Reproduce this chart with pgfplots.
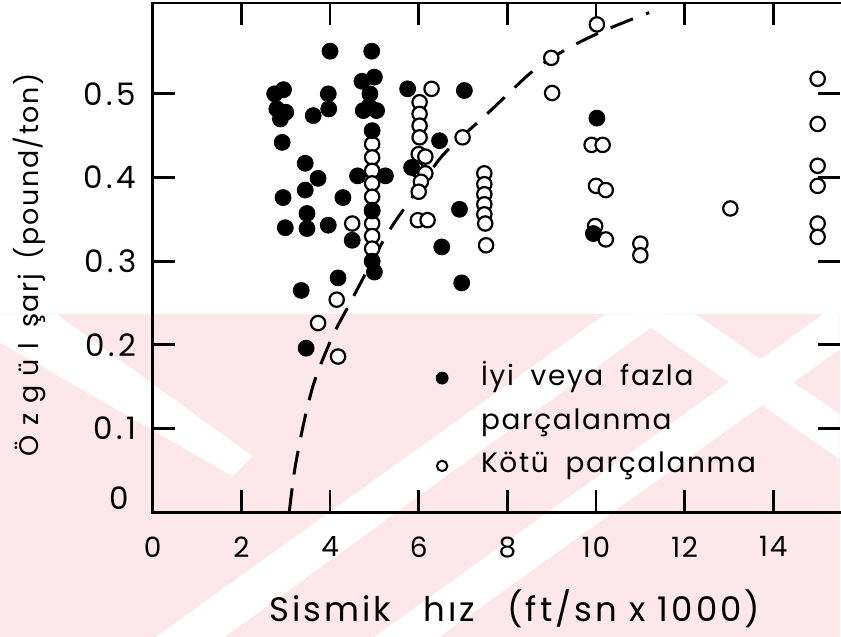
\documentclass[border=0pt]{standalone}
\usepackage{fontspec}
\setmainfont{Poppins}[LetterSpace=6]
\usepackage{pgfplots}
\pgfplotsset{compat=1.18}

\definecolor{wmpink}{RGB}{252,231,235}

\begin{document}
\begin{tikzpicture}[font=\fontsize{14pt}{17pt}\selectfont]
% frame of the whole figure
\path (-76.5pt,-62.5pt) rectangle (344pt,256.5pt);
% background stripes (drawn in a 841 x 638 grid, y downwards)
\begin{scope}[x=0.5pt,y=-0.5pt,shift={(-76.5pt,256.5pt)}]
  \fill[wmpink] (0,315) rectangle (841,638);
  \fill[white] (0,315) -- (57,315) -- (253,457) -- (233,477) -- (0,343) -- cycle;
  \fill[white] (156,638) -- (225,638) -- (670,315) -- (606,315) -- cycle;
  \fill[white] (375,638) -- (440,638) -- (841,350) -- (841,303) -- cycle;
  \fill[white] (633,315) -- (697,315) -- (841,415) -- (841,460) -- cycle;
\end{scope}
\begin{axis}[
  at={(0,0)}, anchor=south west,
  scale only axis, width=344pt, height=255pt,
  xmin=0, xmax=15.495, ymin=0, ymax=0.6086,
  clip=false,
  xtick={0,2,...,14},
  ytick={0.1,0.2,0.3,0.4,0.5},
  yticklabels={0.1,0.2,0.3,0.4,0.5},
  extra y ticks={0},
  extra y tick labels={0},
  extra y tick style={yticklabel style={yshift=7pt,xshift=-3.5pt}},
  tick align=inside, major tick length=11pt,
  axis line style={draw=none},
  every tick/.style={line width=1.4pt, black},
  /pgf/number format/assume math mode=true,
  yticklabel style={anchor=east, inner sep=0pt, xshift=-8pt,
    font=\fontsize{15.5pt}{18pt}\selectfont\addfontfeatures{LetterSpace=12}},
  xticklabel style={anchor=north, inner sep=0pt, yshift=-12pt},
  xlabel={Sismik\hspace{0.95em}hız\hspace{0.95em}(ft/sn x 1000)},
  ylabel={{\addfontfeatures{LetterSpace=35}Özgül}\hspace{0.55em}şarj\hspace{0.55em}(pound/ton)},
  xlabel style={at={(axis description cs:0.527,-0.1902)}, anchor=center,
    font=\fontsize{17pt}{20pt}\selectfont\addfontfeatures{LetterSpace=9}},
  ylabel style={at={(axis description cs:-0.1795,0.486)}, anchor=center,
    font=\fontsize{13.5pt}{16pt}\selectfont},
  legend style={at={(axis cs:6.0,0.181)}, anchor=north west, draw=none, fill=none,
    row sep=9pt, column sep=16.5pt,
    nodes={inner sep=0pt, text height=10pt, text depth=3pt}},
  legend cell align=left,
]
% separation curve
\addplot[forget plot, smooth, line width=1.5pt, dash pattern=on 12pt off 7pt] coordinates {
  (3.08,0) (3.2,0.05) (3.4,0.105) (3.6,0.148) (3.8,0.178) (4.1,0.215)
  (4.4,0.245) (4.65,0.27) (5.0,0.305) (5.4,0.342) (6.0,0.387) (6.5,0.424)
  (7.0,0.45) (7.5,0.474) (8.0,0.499) (8.5,0.524) (9.0,0.543) (9.6,0.561)
  (10.2,0.576) (10.8,0.589) (11.2,0.597)};
% poor fragmentation
\addplot[forget plot, only marks, mark=*, mark size=3.6pt,
  mark options={fill=white, draw=black, line width=1.1pt}] coordinates {
  (6.29,0.506) (6.02,0.490) (6.02,0.476) (6.02,0.462) (6.02,0.448)
  (6.00,0.428) (6.15,0.425) (5.95,0.410) (6.15,0.405) (6.05,0.395) (6.00,0.383)
  (5.98,0.349) (6.20,0.349)
  (4.95,0.440) (4.95,0.424) (4.95,0.408) (4.95,0.393) (4.95,0.377) (4.95,0.361)
  (4.95,0.345) (4.95,0.330) (4.95,0.315)
  (4.50,0.345) (4.15,0.254) (3.73,0.226) (4.18,0.186)
  (6.99,0.448) (8.99,0.543) (9.01,0.501) (10.02,0.583)
  (7.48,0.405) (7.48,0.392) (7.48,0.380) (7.48,0.368) (7.48,0.356) (7.50,0.345)
  (7.52,0.319)
  (9.90,0.439) (10.15,0.439) (10.00,0.390) (10.22,0.385) (9.98,0.342) (10.22,0.326)
  (11.00,0.321) (11.00,0.307) (13.03,0.363)
  (15.00,0.518) (15.00,0.464) (15.00,0.414) (15.00,0.390) (15.00,0.345) (15.00,0.329)};
% good or excessive fragmentation
\addplot[forget plot, only marks, mark=*, mark size=4pt, black] coordinates {
  (4.00,0.551) (4.94,0.551)
  (2.75,0.500) (2.95,0.505) (2.80,0.482) (3.00,0.478) (2.88,0.470)
  (3.62,0.474) (3.96,0.500) (3.97,0.482)
  (4.72,0.515) (5.00,0.520) (4.90,0.500) (4.88,0.485) (4.75,0.480) (5.05,0.480)
  (5.75,0.506) (7.03,0.504) (2.92,0.442) (6.47,0.444) (4.95,0.456)
  (3.44,0.417) (3.73,0.399) (4.62,0.402) (5.25,0.402) (5.84,0.412)
  (2.94,0.376) (3.44,0.385) (4.29,0.376) (4.95,0.360) (6.92,0.362)
  (2.99,0.340) (3.48,0.357) (3.48,0.339) (3.96,0.343) (4.50,0.325)
  (4.95,0.300) (5.00,0.287) (6.52,0.317) (4.18,0.280) (3.35,0.265)
  (6.97,0.274) (3.46,0.196) (10.02,0.471) (9.94,0.333)};
% frame: left, top and bottom sides
\draw[line width=1.4pt, line cap=rect]
  (rel axis cs:1,1) -- (rel axis cs:0,1) -- (rel axis cs:0,0) -- (rel axis cs:1,0);
\addlegendimage{only marks, mark=*, mark size=3pt, black}
\addlegendentry{İyi\hspace{0.6em}veya\hspace{0.6em}fazla}
\addlegendimage{empty legend}
\addlegendentry{parçalanma}
\addlegendimage{only marks, mark=*, mark size=2.6pt, mark options={fill=white, draw=black, line width=1pt}}
\addlegendentry{Kötü\hspace{0.6em}parçalanma}
\end{axis}
\end{tikzpicture}
\end{document}
